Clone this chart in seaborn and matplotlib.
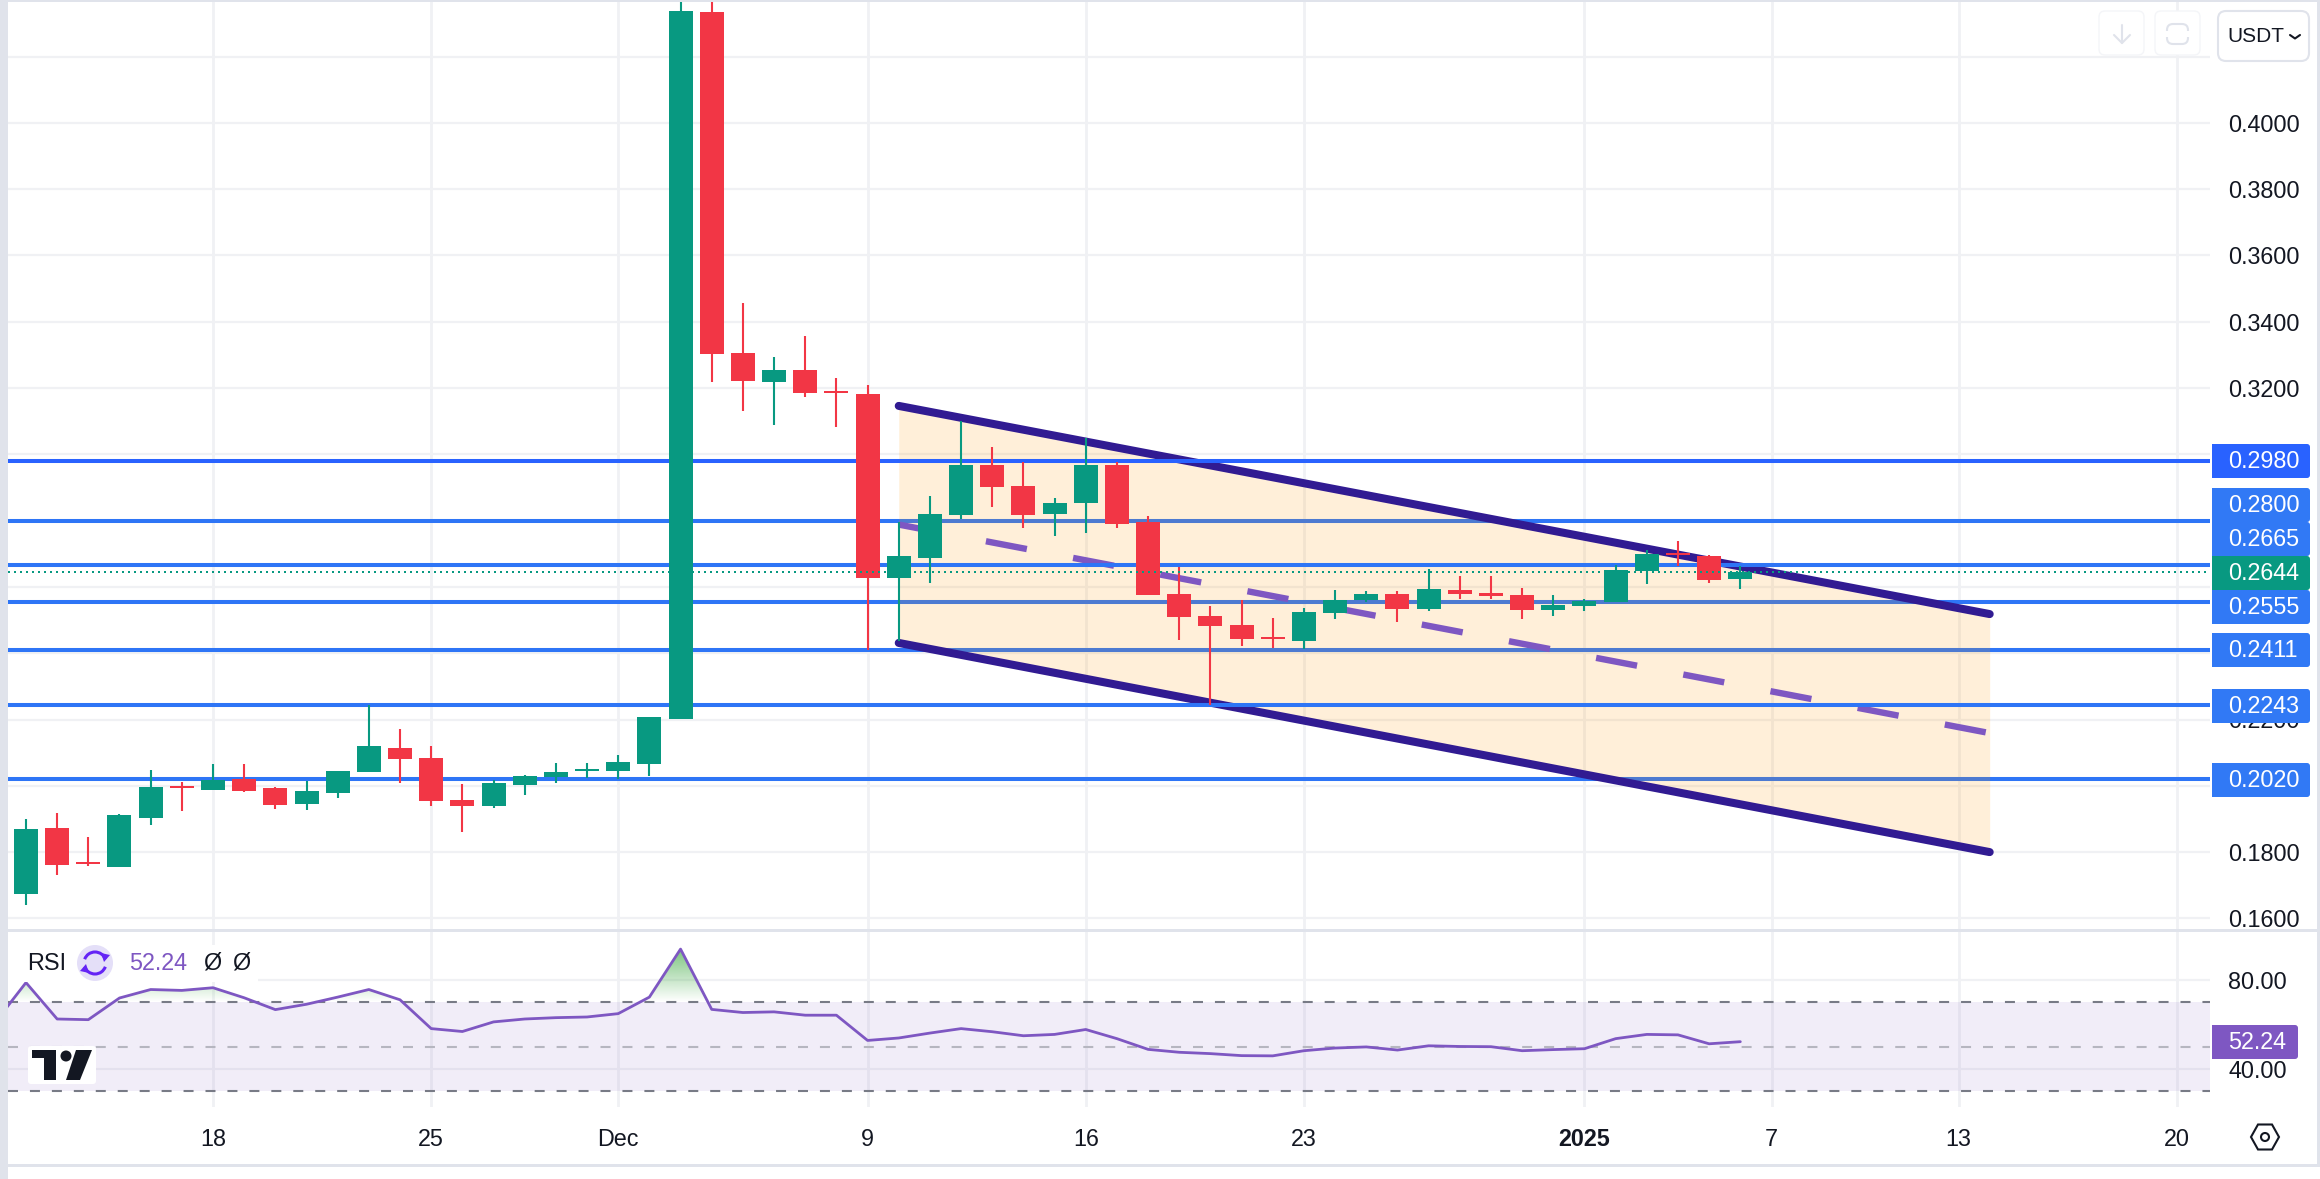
import matplotlib
matplotlib.use('Agg')
import matplotlib.dates as mdates
import matplotlib.pyplot as plt
import numpy as np
import pandas as pd
import seaborn as sns
from matplotlib.patches import Arc, Circle, FancyBboxPatch, Polygon, Rectangle
from matplotlib.path import Path

# daily candles, 12 Nov 2024 -> 6 Jan 2025
candle_open = [.1674, .1873, .1770, .1755, .1903, .1999, .1987, .2020, .1994, .1946, .1978, .2041, .2114, .2084,
               .1957, .1939, .2002, .2027, .2045, .2045, .2066, .2202, .4334, .3305, .3218, .3254, .3190, .3182,
               .2627, .2688, .2816, .2967, .2905, .2821, .2854, .2967, .2796, .2578, .2512, .2485, .2449, .2437,
               .2521, .2561, .2579, .2533, .2591, .2582, .2576, .2530, .2542, .2555, .2648, .2702, .2693, .2624]
candle_high = [.1900, .1918, .1845, .1914, .2048, .2011, .2066, .2066, .1997, .2013, .2045, .2245, .2172, .2121,
               .2006, .2019, .2033, .2069, .2069, .2093, .2207, .4365, .4365, .3456, .3294, .3357, .3231, .3210,
               .2796, .2875, .3099, .3023, .2976, .2868, .3048, .2977, .2814, .2660, .2542, .2561, .2506, .2536,
               .2591, .2588, .2588, .2654, .2633, .2633, .2597, .2576, .2564, .2665, .2711, .2739, .2696, .2663]
candle_low = [.1640, .1731, .1759, .1755, .1883, .1924, .1987, .1981, .1930, .1927, .1963, .2041, .2009, .1939,
              .1861, .1933, .1972, .2007, .2024, .2021, .2029, .2202, .3218, .3131, .3088, .3172, .3082, .2411,
              .2436, .2611, .2804, .2841, .2778, .2754, .2762, .2778, .2575, .2440, .2244, .2422, .2416, .2413,
              .2503, .2555, .2494, .2527, .2564, .2564, .2503, .2512, .2527, .2555, .2609, .2663, .2612, .2594]
candle_close = [.1870, .1761, .1764, .1912, .1997, .1994, .2018, .1985, .1942, .1985, .2045, .2121, .2080, .1955,
                .1939, .2008, .2029, .2041, .2050, .2072, .2207, .4337, .3303, .3221, .3254, .3185, .3185, .2627,
                .2693, .2821, .2967, .2901, .2816, .2854, .2967, .2790, .2575, .2509, .2482, .2443, .2443, .2524,
                .2561, .2579, .2533, .2594, .2579, .2573, .2530, .2545, .2558, .2651, .2699, .2696, .2621, .2644]

# RSI starts one day before the first candle, off the left edge
rsi_values = [60.7, 78.7, 62.4, 62.1, 71.8, 75.6, 75.2, 76.4, 71.9, 66.6, 69.0, 72.2, 75.6, 71.0, 58.1, 56.8, 61.1,
              62.4, 63.0, 63.3, 64.8, 72.2, 93.7, 66.7, 65.3, 65.6, 64.1, 64.1, 52.8, 53.9, 56.1, 58.1, 56.7, 54.9,
              55.5, 57.7, 53.6, 48.8, 47.5, 46.9, 46.0, 45.9, 48.2, 49.4, 49.9, 48.5, 50.4, 50.1, 50.0, 48.2, 48.7,
              49.1, 53.6, 55.5, 55.3, 51.3, 52.24]

bright_levels = [.2980, .2665, .2243]
muted_levels = [.2800, .2555, .2411, .2020]
last_price = .2644

channel_dates = ['2024-12-10', '2025-01-14']
channel_upper = [.3146, .2518]
channel_lower = [.2431, .1800]
channel_mid = [.2788, .2159]

price_ticks = [.16, .18, .20, .22, .24, .26, .28, .30, .32, .34, .36, .38, .40, .42]
# the others sit behind a price tag or the USDT button in the reference
price_tick_names = ['0.1600', '0.1800', '', '0.2200', '', '', '', '', '0.3200', '0.3400', '0.3600', '0.3800',
                    '0.4000', '']
rsi_ticks = [40, 80]
rsi_tick_names = ['40.00', '80.00']
tick_dates = ['2024-11-18', '2024-11-25', '2024-12-01', '2024-12-09', '2024-12-16', '2024-12-23', '2025-01-01',
              '2025-01-07', '2025-01-13', '2025-01-20']
tick_names = ['18', '25', 'Dec', '9', '16', '23', '2025', '7', '13', '20']

tag_names = ['0.2980', '0.2800', '0.2665', '0.2644', '0.2555', '0.2411', '0.2243', '0.2020']
tag_colors = ['#2962ff', '#3179f5', '#3179f5', '#089981', '#3179f5', '#3179f5', '#3179f5', '#3179f5']
tag_rows = [461, 505, 539, 573, 607, 650, 706, 780]

W, H = 2320, 1179
GREEN, RED = '#089981', '#f23645'
PURPLE, NAVY = '#7e57c2', '#311b92'
GRID, FRAME, INK = '#f0f1f4', '#e0e3eb', '#131722'


def px_rect(left, top, right, bottom):
    return [left / W, 1 - bottom / H, (right - left) / W, (bottom - top) / H]


sns.set_theme(style='white')
plt.rcParams['font.family'] = ['Liberation Sans', 'DejaVu Sans']
plt.rcParams['lines.scale_dashes'] = False

dates = pd.date_range('2024-11-12', periods=len(candle_open), freq='D')
df = pd.DataFrame({'date': dates, 'open': candle_open, 'high': candle_high, 'low': candle_low, 'close': candle_close})
df['color'] = np.where(df['close'] >= df['open'], GREEN, RED)
rsi = pd.DataFrame({'date': pd.date_range('2024-11-11', periods=len(rsi_values), freq='D'), 'rsi': rsi_values})
ticks = pd.to_datetime(tick_dates)
channel_x = pd.to_datetime(channel_dates)

# 31.17 px per day, gridline of 18 Nov at x=213
x_start = pd.Timestamp('2024-11-18') + pd.Timedelta(days=(8 - 213) / 31.17)
x_end = pd.Timestamp('2024-11-18') + pd.Timedelta(days=(2210 - 213) / 31.17)

fig = plt.figure(figsize=(W / 100, H / 100), dpi=100, facecolor='white')
ax = fig.add_axes(px_rect(8, 0, 2210, 930))
ax_rsi = fig.add_axes(px_rect(8, 931, 2210, 1107))
over = fig.add_axes([0, 0, 1, 1], zorder=10)

# price panel
ax.set_xlim(x_start, x_end)
ax.set_ylim(.32 - (930 - 388) / 3315, .32 + 388 / 3315)
ax.set_axisbelow(True)
ax.grid(True, axis='y', color=GRID, linewidth=1.6)
ax.grid(True, axis='x', color=GRID, linewidth=2)
ax.set_xticks(ticks)
ax.set_yticks(price_ticks)
ax.set_yticklabels(price_tick_names)
ax.yaxis.tick_right()
ax.tick_params(axis='y', length=0, pad=13, labelsize=16.8, labelcolor=INK)
ax.tick_params(axis='x', length=0, labelbottom=False)
for lev in muted_levels:
    ax.axhline(lev, color='#2e75f6', linewidth=2.9, zorder=2)
ax.fill_between(channel_x, channel_lower, channel_upper, facecolor='#ff9800', alpha=.15, linewidth=0, zorder=3)
sns.lineplot(x=channel_x, y=channel_mid, ax=ax, color=PURPLE, linewidth=4.6, zorder=4,
             linestyle=(0, (30, 33.9)), dash_capstyle='butt')
for band in [channel_upper, channel_lower]:
    sns.lineplot(x=channel_x, y=band, ax=ax, color=NAVY, linewidth=5.8, zorder=4, solid_capstyle='round')
for lev, col in zip(bright_levels, ['#2962ff', '#2e75f6', '#2e75f6']):
    ax.axhline(lev, color=col, linewidth=2.9, zorder=5)
ax.vlines(df['date'], df['low'], df['high'], colors=df['color'], linewidth=1.5, zorder=6)
ax.bar(df['date'], (df['close'] - df['open']).abs(), bottom=df[['open', 'close']].min(axis=1), width=.77,
       color=df['color'], linewidth=0, zorder=6)
ax.axhline(last_price, color=GREEN, linewidth=1.44, linestyle=(0, (1.44, 2.88)), zorder=7)
ax.set(xlabel='', ylabel='')

# RSI panel
ax_rsi.set_xlim(x_start, x_end)
ax_rsi.set_ylim(23, 101.8)
ax_rsi.set_axisbelow(True)
ax_rsi.grid(True, axis='y', color=GRID, linewidth=1.6)
ax_rsi.grid(True, axis='x', color=GRID, linewidth=2)
ax_rsi.set_xticks(ticks)
ax_rsi.set_xticklabels(tick_names)
ax_rsi.get_xticklabels()[tick_names.index('2025')].set_fontweight('bold')
ax_rsi.set_yticks(rsi_ticks)
ax_rsi.set_yticklabels(rsi_tick_names)
ax_rsi.yaxis.tick_right()
ax_rsi.tick_params(axis='y', length=0, pad=13, labelsize=16.8, labelcolor=INK)
ax_rsi.tick_params(axis='x', length=0, pad=15, labelsize=16.8, labelcolor=INK)
ax_rsi.axhspan(30, 70, facecolor=PURPLE, alpha=.1, linewidth=0, zorder=1)
for lev, col in zip([70, 50, 30], ['#787b86', '#b6b6c0', '#787b86']):
    ax_rsi.axhline(lev, color=col, linewidth=1.5, linestyle=(0, (7.2, 8.6)), zorder=2)

# green glow above the 70 line
glow = ax_rsi.fill_between(rsi['date'], 70, rsi['rsi'], where=rsi['rsi'] > 70, interpolate=True, facecolor='none',
                           linewidth=0)
shade = np.zeros((100, 2, 4))
shade[..., :3] = np.array([76, 175, 80]) / 255
shade[..., 3] = np.linspace(.75, 0, 100)[:, None]
x_num = mdates.date2num([x_start, x_end])
im = ax_rsi.imshow(shade, extent=[x_num[0], x_num[1], 70, 94], aspect='auto', origin='upper', zorder=3)
im.set_clip_path(Path.make_compound_path(*glow.get_paths()), transform=ax_rsi.transData)
ax_rsi.set_xlim(x_start, x_end)
ax_rsi.set_ylim(23, 101.8)
sns.lineplot(data=rsi, x='date', y='rsi', ax=ax_rsi, color=PURPLE, linewidth=2, zorder=4)
ax_rsi.set(xlabel='', ylabel='')

for a in [ax, ax_rsi]:
    sns.despine(ax=a, left=True, bottom=True, right=True, top=True)
    a.patch.set_alpha(0)

# frame, tags and widgets sit on top, drawn in pixels
over.set_xlim(0, W)
over.set_ylim(H, 0)
over.axis('off')
over.add_patch(Rectangle((0, 0), 8, H, color=FRAME, linewidth=0))
over.add_patch(Rectangle((0, 0), W, 2, color=FRAME, linewidth=0))
over.add_patch(Rectangle((2317, 0), 3, 1166, color=FRAME, linewidth=0))
over.add_patch(Rectangle((8, 929), W, 2.5, color=FRAME, linewidth=0))
over.add_patch(Rectangle((8, 1164), W, 2.5, color=FRAME, linewidth=0))

for name, col, row in zip(tag_names, tag_colors, tag_rows):
    over.add_patch(FancyBboxPatch((2212, row - 17), 98, 34, boxstyle='round,pad=0,rounding_size=3', facecolor=col,
                                  linewidth=0))
    over.add_patch(Rectangle((2212, row - 17), 10, 34, facecolor=col, linewidth=0))
    over.text(2228, row + .5, name, color='white', fontsize=16.8, va='center', ha='left')
over.add_patch(FancyBboxPatch((2212, 1025), 86, 34, boxstyle='round,pad=0,rounding_size=3', facecolor=PURPLE,
                              linewidth=0))
over.add_patch(Rectangle((2212, 1025), 10, 34, facecolor=PURPLE, linewidth=0))
over.text(2228, 1042.5, '52.24', color='white', fontsize=16.8, va='center', ha='left')

# currency button and the two faint chart buttons
over.add_patch(FancyBboxPatch((2218, 11), 91, 50, boxstyle='round,pad=0,rounding_size=8', facecolor='white',
                              edgecolor=FRAME, linewidth=1.5))
over.text(2227, 36.5, 'USDT', color=INK, fontsize=15, va='center', ha='left')
over.plot([2290, 2295, 2300], [35, 38.5, 35], color=INK, linewidth=1.5)
for left in [2099, 2155]:
    over.add_patch(FancyBboxPatch((left, 11), 45, 44, boxstyle='round,pad=0,rounding_size=6', facecolor='white',
                                  edgecolor='#f4f5f8', linewidth=1))
over.plot([2122, 2122], [25, 43], color=FRAME, linewidth=1.5)
over.plot([2114, 2122, 2130], [35, 43, 35], color=FRAME, linewidth=1.5)
over.add_patch(FancyBboxPatch((2167, 24), 21, 20, boxstyle='round,pad=0,rounding_size=6', facecolor='white',
                              edgecolor=FRAME, linewidth=1.5))
over.add_patch(Rectangle((2162, 31), 30, 6, facecolor='white', linewidth=0))

# settings hexagon
over.add_patch(Polygon([(2251, 1137), (2258, 1124.5), (2272, 1124.5), (2279, 1137), (2272, 1149.5), (2258, 1149.5)],
                       closed=True, fill=False, edgecolor=INK, linewidth=1.5))
over.add_patch(Circle((2265, 1137), 4, fill=False, edgecolor=INK, linewidth=1.5))

# RSI legend
over.add_patch(Rectangle((8, 945), 250, 37, facecolor='white', linewidth=0, zorder=.5))
over.text(27, 963.5, 'RSI', color=INK, fontsize=16.8, va='center', ha='left')
over.add_patch(Circle((95, 963), 18, facecolor='#e4dff8', linewidth=0))
over.add_patch(Arc((95, 963), 22, 22, theta1=200, theta2=340, edgecolor='#6424f5', linewidth=2.2))
over.add_patch(Arc((95, 963), 22, 22, theta1=20, theta2=160, edgecolor='#6424f5', linewidth=2.2))
over.add_patch(Polygon([(101, 953), (110, 955), (104, 962)], closed=True, facecolor='#6424f5', linewidth=0))
over.add_patch(Polygon([(89, 973), (80, 971), (86, 964)], closed=True, facecolor='#6424f5', linewidth=0))
over.text(129, 963.5, '52.24', color=PURPLE, fontsize=16.8, va='center', ha='left')
over.text(212, 963.5, 'Ø', color=INK, fontsize=16.8, va='center', ha='center')
over.text(241, 963.5, 'Ø', color=INK, fontsize=16.8, va='center', ha='center')

# TradingView mark
over.add_patch(FancyBboxPatch((28, 1046), 68, 38, boxstyle='round,pad=0,rounding_size=3', facecolor='white',
                              linewidth=0))
over.add_patch(Polygon([(32, 1050), (56, 1050), (56, 1080), (44, 1080), (44, 1058), (32, 1058)], closed=True,
                       facecolor=INK, linewidth=0))
over.add_patch(Circle((66, 1056), 5.5, facecolor=INK, linewidth=0))
over.add_patch(Polygon([(76, 1050), (92, 1050), (80, 1080), (66, 1080)], closed=True, facecolor=INK, linewidth=0))

fig.savefig('out.png', dpi=100)
